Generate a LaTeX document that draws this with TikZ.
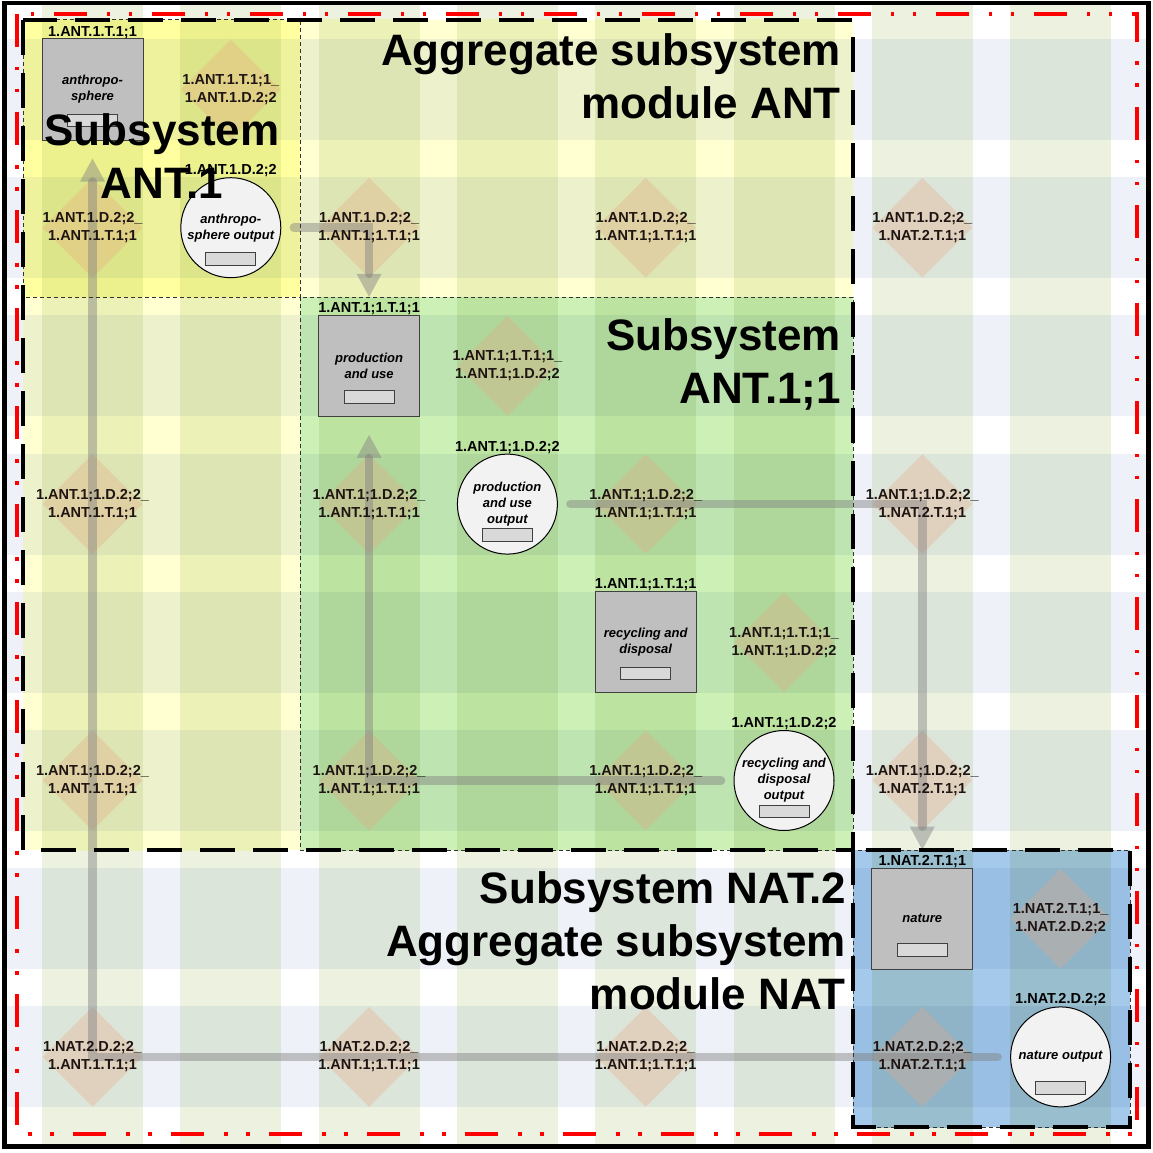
\documentclass[tikz,border=0pt]{standalone}
\usepackage{fontspec}
\setmainfont{Liberation Sans}
\usetikzlibrary{arrows.meta,shapes.geometric,calc}

% area colours and their band shades (row band, column band, crossing)
\definecolor{bgRow}{RGB}{238,242,248}
\definecolor{bgCol}{RGB}{236,241,224}
\definecolor{bgBoth}{RGB}{220,229,218}
\definecolor{aggYellow}{RGB}{255,255,210}
\definecolor{aggYellowRow}{RGB}{238,242,204}
\definecolor{aggYellowCol}{RGB}{236,241,184}
\definecolor{aggYellowBoth}{RGB}{220,229,179}
\definecolor{subYellow}{RGB}{255,255,160}
\definecolor{subYellowRow}{RGB}{238,242,156}
\definecolor{subYellowCol}{RGB}{236,241,141}
\definecolor{subYellowBoth}{RGB}{220,229,137}
\definecolor{subGreen}{RGB}{204,240,182}
\definecolor{subGreenRow}{RGB}{190,228,177}
\definecolor{subGreenCol}{RGB}{189,227,160}
\definecolor{subGreenBoth}{RGB}{176,215,155}
\definecolor{subBlue}{RGB}{165,201,234}
\definecolor{subBlueRow}{RGB}{154,191,228}
\definecolor{subBlueCol}{RGB}{153,190,206}
\definecolor{subBlueBoth}{RGB}{143,180,200}

\definecolor{diaFill}{RGB}{235,165,130}
\definecolor{diaText}{RGB}{30,20,18}
\definecolor{boxFill}{RGB}{191,191,191}
\definecolor{boxLine}{RGB}{64,64,64}
\definecolor{circFill}{RGB}{242,242,242}
\definecolor{slotFill}{RGB}{217,217,217}
\definecolor{connGray}{RGB}{128,128,128}

% one coloured area with its row and column bands
\newcommand\bandzone[5]{%
  \begin{scope}
    \clip #1;
    \fill[#2] #1;
    \foreach \k in {0,...,7}{\fill[#3] (5,{39+138.2*\k}) rectangle (1148,{140+138.2*\k});}
    \foreach \k in {0,...,7}{\fill[#4] ({42+138.3*\k},3) rectangle ({143+138.3*\k},1146);}
    \foreach \i in {0,...,7}{\foreach \j in {0,...,7}{%
      \fill[#5] ({42+138.3*\i},{39+138.2*\j}) rectangle ({143+138.3*\i},{140+138.2*\j});}}
  \end{scope}}

% interface diamonds: column/row/text
\def\dialist{
 1/0/{1.ANT.1.T.1;1\_\\1.ANT.1.D.2;2},
 0/1/{1.ANT.1.D.2;2\_\\1.ANT.1.T.1;1},
 2/1/{1.ANT.1.D.2;2\_\\1.ANT.1;1.T.1;1},
 4/1/{1.ANT.1.D.2;2\_\\1.ANT.1;1.T.1;1},
 6/1/{1.ANT.1.D.2;2\_\\1.NAT.2.T.1;1},
 3/2/{1.ANT.1;1.T.1;1\_\\1.ANT.1;1.D.2;2},
 0/3/{1.ANT.1;1.D.2;2\_\\1.ANT.1.T.1;1},
 2/3/{1.ANT.1;1.D.2;2\_\\1.ANT.1;1.T.1;1},
 4/3/{1.ANT.1;1.D.2;2\_\\1.ANT.1;1.T.1;1},
 6/3/{1.ANT.1;1.D.2;2\_\\1.NAT.2.T.1;1},
 5/4/{1.ANT.1;1.T.1;1\_\\1.ANT.1;1.D.2;2},
 0/5/{1.ANT.1;1.D.2;2\_\\1.ANT.1.T.1;1},
 2/5/{1.ANT.1;1.D.2;2\_\\1.ANT.1;1.T.1;1},
 4/5/{1.ANT.1;1.D.2;2\_\\1.ANT.1;1.T.1;1},
 6/5/{1.ANT.1;1.D.2;2\_\\1.NAT.2.T.1;1},
 7/6/{1.NAT.2.T.1;1\_\\1.NAT.2.D.2;2},
 0/7/{1.NAT.2.D.2;2\_\\1.ANT.1.T.1;1},
 2/7/{1.NAT.2.D.2;2\_\\1.ANT.1;1.T.1;1},
 4/7/{1.NAT.2.D.2;2\_\\1.ANT.1;1.T.1;1},
 6/7/{1.NAT.2.D.2;2\_\\1.NAT.2.T.1;1}}

\begin{document}
\begin{tikzpicture}[x=1pt,y=-1pt,
  dia/.style={diamond,aspect=1,fill=diaFill,fill opacity=0.3,minimum width=100pt,minimum height=100pt,inner sep=0pt},
  dtext/.style={font=\fontsize{14.5}{18}\selectfont\bfseries,align=center,text=diaText,inner sep=0pt},
  toplbl/.style={font=\fontsize{14.5}{18}\selectfont\bfseries,inner sep=0pt,text=black},
  box/.style={rectangle,fill=boxFill,draw=boxLine,line width=1pt,minimum width=101pt,minimum height=101pt,inner sep=0pt,align=center,font=\fontsize{13}{16}\selectfont\bfseries\itshape},
  outcirc/.style={circle,fill=circFill,draw=black,line width=1pt,minimum size=100pt,inner sep=0pt,align=center,font=\fontsize{13}{16}\selectfont\bfseries\itshape},
  slot/.style={rectangle,fill=slotFill,draw=boxLine,line width=0.8pt,minimum width=50pt,minimum height=12.5pt,inner sep=0pt},
  conn/.style={draw=connGray,opacity=0.45,line width=8.5pt,line cap=round,shorten <=12.5pt,shorten >=18pt,-{Triangle[width=25pt,length=23pt,line width=0pt]}},
  bigtext/.style={font=\fontsize{44}{53}\selectfont\bfseries,inner sep=0pt},
  aggline/.style={draw=black,line width=4pt,line cap=butt,dash pattern=on 35pt off 18pt},
  subline/.style={draw=black!80,line width=1pt,dash pattern=on 4pt off 3pt},
  redline/.style={draw=red,line width=3.5pt,line cap=butt,dash pattern=on 33pt off 20pt on 3.5pt off 18.5pt on 3.5pt off 19.5pt}
]
\useasboundingbox (0,0) rectangle (1153,1153);
\fill[white] (0,0) rectangle (1153,1153);

% coloured areas with the matrix bands running through them
\bandzone{(0,0) rectangle (1153,1153)}{white}{bgRow}{bgCol}{bgBoth}
\bandzone{(23,20) rectangle (853,850)}{aggYellow}{aggYellowRow}{aggYellowCol}{aggYellowBoth}
\bandzone{(23,20) rectangle (300,297)}{subYellow}{subYellowRow}{subYellowCol}{subYellowBoth}
\bandzone{(300,297) rectangle (853,850)}{subGreen}{subGreenRow}{subGreenCol}{subGreenBoth}
\bandzone{(853,850) rectangle (1130,1127)}{subBlue}{subBlueRow}{subBlueCol}{subBlueBoth}

% interface diamonds
\foreach \c/\r/\txt in \dialist{
  \node[dia] (d\c\r) at ({92.5+138.3*\c},{89.5+138.2*\r}) {};
}

% transformation and output nodes
\node[box,label={[toplbl]above:1.ANT.1.T.1;1}] (anth) at (92.5,89.5) {anthropo-\\sphere};
\node[slot] (anthslot) at ($(anth.center)+(0,31)$) {};
\node[outcirc,label={[toplbl]above:1.ANT.1.D.2;2}] (ao) at (230.8,227.7) {anthropo-\\sphere output};
\node[slot] (aoslot) at ($(ao.center)+(0,31)$) {};
\node[box,label={[toplbl]above:1.ANT.1;1.T.1;1}] (pu) at (369.1,365.9) {production\\and use};
\node[slot] (puslot) at ($(pu.center)+(0,31)$) {};
\node[outcirc,label={[toplbl]above:1.ANT.1;1.D.2;2}] (po) at (507.4,504.1) {production\\and use\\output};
\node[slot] (poslot) at ($(po.center)+(0,31)$) {};
\node[box,label={[toplbl]above:1.ANT.1;1.T.1;1}] (rd) at (645.7,642.3) {recycling and\\disposal};
\node[slot] (rdslot) at ($(rd.center)+(0,31)$) {};
\node[outcirc,label={[toplbl]above:1.ANT.1;1.D.2;2}] (ro) at (784,780.5) {recycling and\\disposal\\output};
\node[slot] (roslot) at ($(ro.center)+(0,31)$) {};
\node[box,label={[toplbl]above:1.NAT.2.T.1;1}] (nat) at (922.3,918.7) {nature};
\node[slot] (natslot) at ($(nat.center)+(0,31)$) {};
\node[outcirc,label={[toplbl]above:1.NAT.2.D.2;2}] (no) at (1060.6,1056.9) {nature output};
\node[slot] (noslot) at ($(no.center)+(0,31)$) {};

% flows
\draw[conn] (ao.east) -| (pu.north);
\draw[conn] (po.east) -| (nat.north);
\draw[conn] (ro.west) -| (pu.south);
\draw[conn] (no.west) -| (anth.south);

% interface labels
\foreach \c/\r/\txt in \dialist{
  \node[dtext] (dt\c\r) at (d\c\r) {\txt};
}

% subsystem titles
\node[bigtext,align=right,anchor=north east] (aggAntLabel) at (841,33) {Aggregate subsystem\\module ANT};
\node[bigtext,align=center,anchor=north] (subAntOneLabel) at (162,113) {Subsystem\\ANT.1};
\node[bigtext,align=right,anchor=north east] (subAntOneOneLabel) at (841,318) {Subsystem\\ANT.1;1};
\node[bigtext,anchor=north east] (subNatTwoLabel) at (846,871) {Subsystem NAT.2};
\node[bigtext,align=right,anchor=north east] (aggNatLabel) at (846,924) {Aggregate subsystem\\module NAT};

% boundaries
\draw[subline] (23,20) rectangle (300,297);
\draw[subline] (300,297) rectangle (853,850);
\draw[subline] (853,850) rectangle (1130,1127);
\draw[aggline] (23,20) rectangle (853,850);
\draw[aggline] (853,850) rectangle (1130,1127);
\draw[redline] (17,14) rectangle (1137,1134);
\draw[line width=4.5pt] (4.7,3) rectangle (1148.5,1146.5);
\end{tikzpicture}
\end{document}
